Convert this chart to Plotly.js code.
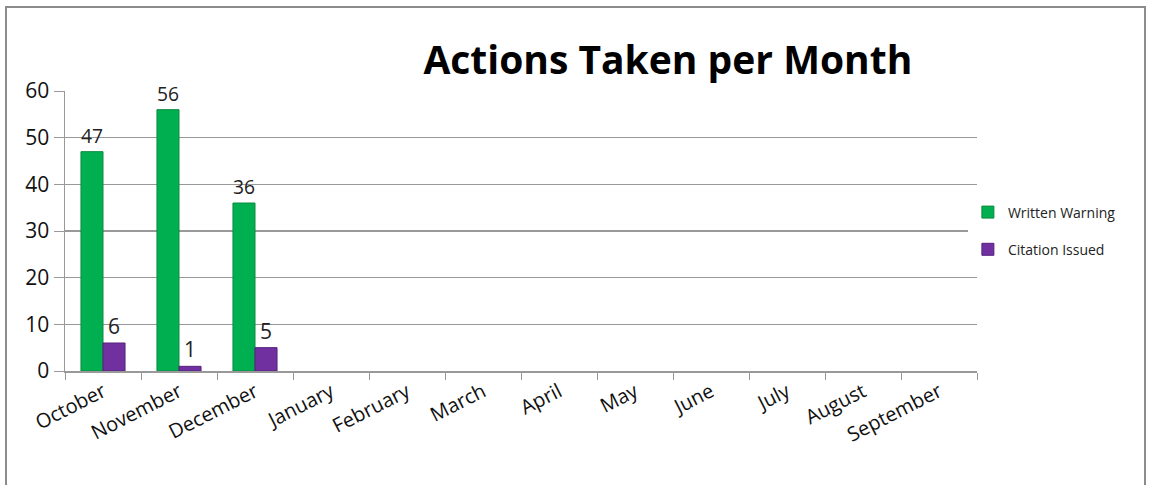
<!DOCTYPE html>
<html>
<head>
<meta charset="utf-8">
<script src="https://cdn.plot.ly/plotly-3.0.1.min.js"></script>
<style>html,body{margin:0;padding:0;background:#fff;}#chart{width:1151px;height:485px;}</style>
</head>
<body>
<div id="chart"></div>
<script>
const months = ["October","November","December","January","February","March","April","May","June","July","August","September"];
const writtenWarning = [47, 56, 36, null, null, null, null, null, null, null, null, null];
const citationIssued = [6, 1, 5, null, null, null, null, null, null, null, null, null];
const yTicks = [0, 10, 20, 30, 40, 50, 60];

const font = "Open Sans, Liberation Sans, sans-serif";

const traces = [
  {
    type: "bar", name: "Written Warning", x: months, y: writtenWarning, legendgroup: "a",
    marker: {color: "#00b050", line: {color: "#0a8a3e", width: 1}},
    text: writtenWarning.map(v => v == null ? "" : String(v)),
    textposition: "outside", cliponaxis: false,
    textfont: {family: font, size: 21, color: "#222"}
  },
  {
    type: "bar", name: "Citation Issued", x: months, y: citationIssued, legendgroup: "b",
    marker: {color: "#7030a0", line: {color: "#55207e", width: 1}},
    text: citationIssued.map(v => v == null ? "" : String(v)),
    textposition: "outside", cliponaxis: false,
    textfont: {family: font, size: 21, color: "#222"}
  }
];

const layout = {
  width: 1151, height: 485,
  margin: {l: 65, r: 174, t: 91, b: 114},
  paper_bgcolor: "#fff", plot_bgcolor: "#fff",
  barmode: "group", bargap: 0.42, bargroupgap: 0,
  showlegend: true,
  title: {
    text: "<b>Actions Taken per Month</b>",
    font: {family: font, size: 39, color: "#000"},
    xref: "paper", x: 0.661, xanchor: "center",
    yref: "container", y: 0.876, yanchor: "middle"
  },
  legend: {
    x: 0.99, xanchor: "left", y: 0.5, yanchor: "middle",
    font: {family: font, size: 14, color: "#222"},
    tracegroupgap: 16, itemwidth: 30
  },
  xaxis: {
    type: "category",
    tickangle: -27,
    tickfont: {family: font, size: 20, color: "#111"},
    ticks: "outside", tickson: "boundaries", ticklen: 7, tickcolor: "#999",
    showline: true, linecolor: "#999", linewidth: 1.5,
    showgrid: false
  },
  yaxis: {
    range: [0, 60], tickvals: yTicks,
    tickfont: {family: font, size: 21, color: "#111"},
    ticks: "outside", ticklen: 10, tickcolor: "#999",
    showline: true, linecolor: "#999", linewidth: 1.5,
    gridcolor: "#999", gridwidth: 1.2,
    zeroline: false
  },
  shapes: [{
    type: "rect", xref: "paper", yref: "paper",
    x0: -0.0647, x1: 1.1842, y0: -0.43, y1: 1.3,
    line: {color: "#8c8c8c", width: 2}, fillcolor: "rgba(0,0,0,0)", layer: "below"
  }]
};

Plotly.newPlot("chart", traces, layout, {displayModeBar: false, staticPlot: true});
</script>
</body>
</html>
